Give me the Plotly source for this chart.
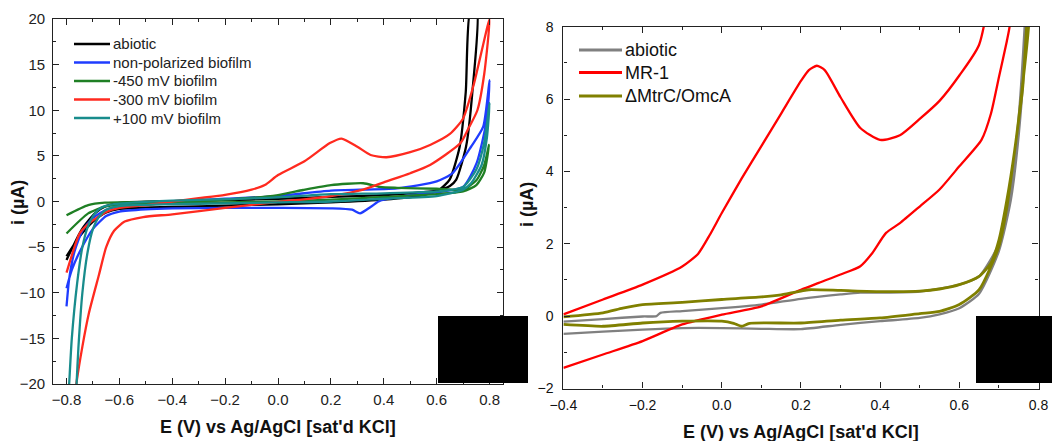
import plotly.graph_objects as go
from plotly.subplots import make_subplots

# ---- left panel: biofilms poised at different potentials ----
ABIOTIC_L_E = [-0.8, -0.743, -0.693, -0.65, -0.6, -0.4, -0.2, 0.0, 0.2, 0.4, 0.5, 0.6, 0.65, 0.674,
               0.711, 0.735, 0.752, 0.728, 0.71, 0.687, 0.649, 0.61, 0.55, 0.4, 0.2, 0.0, -0.2,
               -0.4, -0.6, -0.65, -0.7, -0.75, -0.8]
ABIOTIC_L_I = [-6.4, -3.1, -1.3, -0.5, -0.15, 0.05, 0.15, 0.3, 0.5, 0.7, 0.9, 1.2, 1.7, 2.4,
               6.0, 12.0, 21.0, 21.0, 12.0, 6.0, 2.4, 1.3, 0.7, 0.2, -0.1, -0.3, -0.45,
               -0.6, -0.8, -1.2, -2.2, -3.8, -6.0]

NONPOL_E = [-0.8, -0.79, -0.77, -0.74, -0.7, -0.65, -0.6, -0.5, -0.4, -0.2, 0.0, 0.2, 0.45, 0.6,
            0.66, 0.73, 0.776, 0.8, 0.789, 0.751, 0.70, 0.6, 0.5, 0.4, 0.38, 0.35, 0.31, 0.28,
            0.2, 0.0, -0.2, -0.4, -0.5, -0.6, -0.65, -0.7, -0.75, -0.78, -0.8]
NONPOL_I = [-11.5, -8.5, -5.5, -3.2, -1.8, -0.9, -0.5, -0.2, 0.0, 0.3, 0.6, 1.2, 1.45, 2.2,
            3.1, 6.0, 8.2, 13.3, 8.9, 4.2, 1.6, 1.0, 0.7, 0.2, 0.0, -0.6, -1.3, -0.9,
            -0.75, -0.7, -0.7, -0.75, -0.85, -1.1, -1.6, -3.0, -5.5, -7.5, -9.5]

M450_E = [-0.8, -0.718, -0.655, -0.5, -0.2, 0.0, 0.095, 0.2, 0.322, 0.385, 0.45, 0.6, 0.7,
          0.751, 0.78, 0.798, 0.78, 0.75, 0.7, 0.6, 0.4, 0.2, 0.0, -0.2, -0.4, -0.6, -0.655,
          -0.718, -0.8]
M450_I = [-1.5, -0.4, -0.13, -0.05, 0.2, 0.7, 1.26, 1.8, 2.0, 1.6, 1.5, 1.4, 1.3,
          2.35, 4.0, 6.2, 3.2, 1.8, 1.1, 0.8, 0.5, 0.2, 0.0, -0.1, -0.2, -0.35, -0.57,
          -1.3, -3.5]

M300_E = [-0.8, -0.75, -0.715, -0.65, -0.6, -0.5, -0.4, -0.3, -0.2, -0.1, -0.05, 0.0, 0.1,
          0.196, 0.24, 0.3, 0.35, 0.41, 0.5, 0.575, 0.65, 0.7, 0.741, 0.8, 0.78, 0.754, 0.72,
          0.69, 0.575, 0.5, 0.4, 0.322, 0.2, 0.0, -0.2, -0.4, -0.51, -0.58, -0.62, -0.65,
          -0.677, -0.715, -0.74, -0.763, -0.78]
M300_I = [-7.8, -3.5, -2.4, -1.15, -0.7, -0.4, 0.0, 0.36, 0.73, 1.3, 1.8, 2.9, 4.4,
          6.4, 6.9, 6.0, 5.1, 4.85, 5.4, 6.2, 7.4, 9.1, 12.9, 20.0, 14.0, 10.0, 8.0,
          6.4, 4.0, 3.1, 2.1, 1.3, 0.6, -0.05, -0.7, -1.4, -1.7, -2.2, -3.2, -5.0,
          -8.0, -12.2, -15.9, -20.0, -24.0]

P100_E = [-0.8, -0.79, -0.78, -0.76, -0.74, -0.72, -0.7, -0.67, -0.62, -0.5, -0.4, -0.2, 0.0,
          0.2, 0.4, 0.6, 0.7, 0.75, 0.78, 0.8, 0.79, 0.77, 0.73, 0.7, 0.6, 0.4, 0.2, 0.0,
          -0.2, -0.4, -0.6, -0.65, -0.68, -0.7, -0.72, -0.74, -0.755, -0.762, -0.77]
P100_I = [-25.0, -20.0, -15.0, -9.0, -5.0, -2.8, -1.6, -0.7, -0.3, -0.05, 0.1, 0.25, 0.45,
          0.8, 0.9, 1.1, 1.6, 3.5, 6.5, 10.8, 7.0, 4.0, 2.0, 1.3, 0.6, 0.3, 0.0, -0.1,
          -0.2, -0.3, -0.5, -0.9, -1.8, -3.0, -5.5, -10.0, -16.0, -20.0, -25.0]

# ---- right panel: MR-1 vs mutant ----
ABIOTIC_R_E = [-0.4, -0.3, -0.2, -0.165, -0.155, -0.1, 0.0, 0.1, 0.2, 0.3, 0.35, 0.4, 0.5, 0.6,
               0.65, 0.7, 0.73, 0.75, 0.77, 0.79, 0.79, 0.77, 0.75, 0.73, 0.7, 0.65, 0.6,
               0.55, 0.5, 0.4, 0.3, 0.2, 0.1, 0.0, -0.1, -0.2, -0.3, -0.4]
ABIOTIC_R_I = [-0.15, -0.08, -0.01, 0.0, 0.09, 0.14, 0.22, 0.32, 0.48, 0.6, 0.65, 0.65, 0.68, 0.87,
               1.1, 2.0, 3.5, 5.5, 9.0, 14.0, 13.0, 8.0, 5.0, 3.2, 1.8, 0.62, 0.22,
               0.05, -0.05, -0.14, -0.24, -0.36, -0.35, -0.33, -0.33, -0.37, -0.43, -0.49]

MR1_E = [-0.4, -0.3, -0.2, -0.1, -0.06, -0.03, 0.0, 0.05, 0.1, 0.15, 0.2, 0.22, 0.24, 0.26,
         0.3, 0.35, 0.4, 0.45, 0.5, 0.55, 0.6, 0.65, 0.7, 0.75, 0.75, 0.727, 0.72, 0.7, 0.68,
         0.656, 0.6, 0.55, 0.5, 0.45, 0.415, 0.38, 0.35, 0.3, 0.245, 0.2, 0.1, 0.0, -0.1,
         -0.2, -0.3, -0.4]
MR1_I = [0.05, 0.46, 0.87, 1.37, 1.72, 2.25, 2.85, 3.8, 4.7, 5.6, 6.5, 6.8, 6.92, 6.8,
         6.05, 5.2, 4.87, 5.0, 5.45, 5.95, 6.65, 7.5, 10.5, 15.0, 11.0, 8.0, 7.6, 6.6, 5.6,
         4.87, 4.14, 3.5, 3.03, 2.57, 2.3, 1.74, 1.38, 1.15, 0.92, 0.73, 0.27, 0.04, -0.23,
         -0.69, -1.06, -1.43]

MUT_E = [-0.4, -0.3, -0.25, -0.2, -0.1, 0.0, 0.1, 0.15, 0.2, 0.22, 0.3, 0.4, 0.5, 0.55, 0.6,
         0.65, 0.68, 0.7, 0.72, 0.74, 0.76, 0.775, 0.79, 0.79, 0.77, 0.76, 0.74, 0.72, 0.7,
         0.65, 0.6, 0.55, 0.5, 0.4, 0.3, 0.2, 0.07, 0.05, 0.03, 0.0, -0.1, -0.2, -0.3, -0.4]
MUT_I = [-0.02, 0.09, 0.22, 0.32, 0.38, 0.46, 0.53, 0.59, 0.69, 0.73, 0.71, 0.68, 0.69, 0.75, 0.87,
         1.1, 1.47, 2.1, 3.2, 4.6, 6.4, 8.0, 11.0, 11.0, 8.0, 6.3, 4.6, 3.0, 1.93,
         0.73, 0.32, 0.13, 0.07, -0.05, -0.11, -0.19, -0.2, -0.28, -0.2, -0.14, -0.14, -0.19,
         -0.28, -0.23]

X_TITLE = "E (V) vs Ag/AgCl [sat'd KCl]"
Y_TITLE = "i (\u00b5A)"
FONT = "Arial, Liberation Sans, sans-serif"
W, H = 1052, 441


def px(x, y):
    # pixel position -> paper fraction
    return x / W, 1 - y / H


def add_key(fig, rows, x0, x1, tx, ys, size, width, color_txt):
    # legend drawn by hand so the row pitch matches the original figure
    for (name, col), y in zip(rows, ys):
        a, b = px(x0, y)
        c, _ = px(x1, y)
        fig.add_shape(type="line", xref="paper", yref="paper", x0=a, x1=c, y0=b, y1=b,
                      line=dict(color=col, width=width))
        t, _ = px(tx, y)
        fig.add_annotation(xref="paper", yref="paper", x=t, y=b, text=name,
                           showarrow=False, xanchor="left", yanchor="middle",
                           font=dict(family=FONT, size=size, color=color_txt))


def main():
    fig = make_subplots(rows=1, cols=2)

    left = [
        ("abiotic", ABIOTIC_L_E, ABIOTIC_L_I, "#000000"),
        ("non-polarized biofilm", NONPOL_E, NONPOL_I, "#1f3cff"),
        ("-450 mV biofilm", M450_E, M450_I, "#1f7f24"),
        ("-300 mV biofilm", M300_E, M300_I, "#ff2a1f"),
        ("+100 mV biofilm", P100_E, P100_I, "#188c8c"),
    ]
    for name, e, i, col in left:
        fig.add_trace(go.Scatter(x=e, y=i, name=name, mode="lines", showlegend=False,
                                 line=dict(color=col, width=2.3, shape="spline",
                                           smoothing=0.6)), row=1, col=1)

    right = [
        ("abiotic", ABIOTIC_R_E, ABIOTIC_R_I, "#808080", 2.3),
        ("MR-1", MR1_E, MR1_I, "#ff0000", 2.3),
        ("\u0394MtrC/OmcA", MUT_E, MUT_I, "#808000", 2.8),
    ]
    for name, e, i, col, w in right:
        fig.add_trace(go.Scatter(x=e, y=i, name=name, mode="lines", showlegend=False,
                                 line=dict(color=col, width=w, shape="spline",
                                           smoothing=0.6)), row=1, col=2)

    axis_common = dict(showline=True, linecolor="#222", linewidth=1.3, mirror="ticks",
                       ticks="inside", ticklen=6, tickcolor="#222", showgrid=False,
                       zeroline=False, automargin=False,
                       tickfont=dict(family=FONT, size=15, color="#222"))

    fig.update_xaxes(axis_common, row=1, col=1)
    fig.update_yaxes(axis_common, row=1, col=1)
    fig.update_xaxes(axis_common, row=1, col=2)
    fig.update_yaxes(axis_common, row=1, col=2)

    fig.update_layout(
        xaxis=dict(domain=[53.3 / W, 503.3 / W], range=[-0.85, 0.852], dtick=0.2,
                   tickformat=".1f", ticklabelstandoff=2,
                   minor=dict(ticks="inside", ticklen=3, dtick=0.1)),
        yaxis=dict(domain=[1 - 384 / H, 1 - 19 / H], range=[-20, 20], dtick=5,
                   ticklabelstandoff=4,
                   minor=dict(ticks="inside", ticklen=3, dtick=2.5)),
        xaxis2=dict(domain=[563.4 / W, 1038.5 / W], range=[-0.4, 0.8], dtick=0.2,
                    tickformat=".1f", tickfont=dict(size=14, color="#111"),
                    ticklabelstandoff=4,
                    minor=dict(ticks="inside", ticklen=3, dtick=0.1)),
        yaxis2=dict(domain=[1 - 388.5 / H, 1 - 26.7 / H], range=[-2, 8], dtick=2,
                    tickfont=dict(size=14, color="#111"), ticklabelstandoff=6,
                    minor=dict(ticks="inside", ticklen=3, dtick=1)),
        width=W, height=H,
        margin=dict(l=0, r=0, t=0, b=0, autoexpand=False),
        paper_bgcolor="white", plot_bgcolor="white",
        font=dict(family=FONT, color="#222"),
        showlegend=False,
    )

    add_key(fig, [(n, c) for n, _, _, c in left], 74, 110, 111,
            [44, 62.5, 81, 99.5, 118], 15, 2.6, "#222")
    add_key(fig, [(n, c) for n, _, _, c, _ in right], 579, 622, 623,
            [50, 72.5, 96], 18, 3, "#111")

    ann = [
        dict(text=X_TITLE, x=278, y=427),
        dict(text=X_TITLE, x=801, y=432),
        dict(text=Y_TITLE, x=18, y=203, textangle=-90),
        dict(text=Y_TITLE, x=527, y=205, textangle=-90),
    ]
    for a in ann:
        xx, yy = px(a["x"], a["y"])
        fig.add_annotation(xref="paper", yref="paper", showarrow=False,
                           xanchor="center", yanchor="middle", x=xx, y=yy,
                           textangle=a.get("textangle", 0),
                           font=dict(family=FONT, size=18, color="#111"),
                           text="<b>" + a["text"] + "</b>")

    # the two black patches covering the lower-right corners
    for x0, x1 in [(438, 528), (976, 1052)]:
        fig.add_shape(type="rect", xref="paper", yref="paper", layer="above",
                      x0=x0 / W, x1=x1 / W, y0=1 - 383 / H, y1=1 - 316 / H,
                      fillcolor="black", line=dict(width=0))

    fig.write_html("out.html", config={"displayModeBar": False},
                   post_script="document.body.style.margin='0';")


if __name__ == "__main__":
    main()
